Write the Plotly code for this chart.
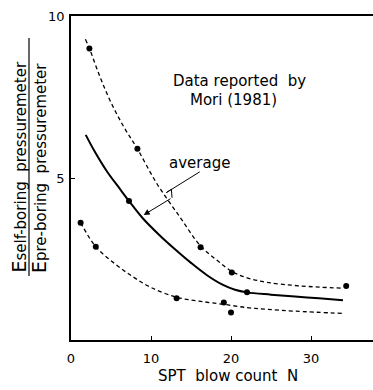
import plotly.graph_objects as go

# ---- data ----
upper_pts_n = [2.3, 8.3, 16.2, 20.1, 34.4]
upper_pts_v = [9.0, 5.9, 2.86, 2.08, 1.67]
avg_pts_n = [7.25, 22.0]
avg_pts_v = [4.29, 1.47]
lower_pts_n = [1.2, 3.1, 13.2, 19.1, 20.0]
lower_pts_v = [3.62, 2.88, 1.29, 1.16, 0.85]

upper_curve_n = [1.8, 2.3, 3.5, 4.85, 6.5, 8.3, 10.7, 13.6, 16.2, 18.2, 20.1, 22.0, 24.5, 28.6, 33.9]
upper_curve_v = [9.28, 9.0, 8.2, 7.41, 6.62, 5.9, 4.84, 3.8, 2.9, 2.47, 2.12, 1.92, 1.78, 1.67, 1.6]
avg_curve_n = [1.84, 3.0, 4.5, 6.0, 7.25, 9.0, 11.0, 13.0, 15.0, 17.0, 19.0, 20.5, 22.0, 25.0, 28.0, 31.0, 34.0]
avg_curve_v = [6.33, 5.8, 5.2, 4.7, 4.29, 3.75, 3.25, 2.8, 2.38, 2.0, 1.7, 1.55, 1.47, 1.4, 1.34, 1.29, 1.23]
lower_curve_n = [1.2, 3.1, 5.5, 7.75, 10.0, 13.2, 16.0, 19.1, 22.0, 24.4, 28.0, 34.0]
lower_curve_v = [3.62, 2.88, 2.35, 1.95, 1.62, 1.32, 1.2, 1.1, 1.0, 0.95, 0.89, 0.82]

bolt_n = [16.09, 11.92, 12.55, 12.63]
bolt_v = [5.19, 4.55, 4.65, 4.39]
arrow_tip = (9.09, 3.86)

x_ticks = [0, 10, 20, 30]
y_ticks = [5, 10]

FONT = "DejaVu Sans"
fig = go.Figure()

for cn, cv, dash, w in [(upper_curve_n, upper_curve_v, "4px,3px", 1.3),
                        (avg_curve_n, avg_curve_v, "solid", 2.0),
                        (lower_curve_n, lower_curve_v, "4px,3px", 1.3)]:
    fig.add_trace(go.Scatter(x=cn, y=cv, mode="lines",
                             line=dict(color="black", width=w, dash=dash, shape="spline", smoothing=1.0),
                             showlegend=False, hoverinfo="skip"))

for pn, pv in [(upper_pts_n, upper_pts_v), (avg_pts_n, avg_pts_v), (lower_pts_n, lower_pts_v)]:
    fig.add_trace(go.Scatter(x=pn, y=pv, mode="markers", marker=dict(color="black", size=6),
                             showlegend=False, hoverinfo="skip"))

fig.add_trace(go.Scatter(x=bolt_n, y=bolt_v, mode="lines", line=dict(color="black", width=1),
                         showlegend=False, hoverinfo="skip"))

fig.add_annotation(x=arrow_tip[0], y=arrow_tip[1], ax=bolt_n[-1], ay=bolt_v[-1], xref="x", yref="y",
                   axref="x", ayref="y", showarrow=True, arrowhead=2, arrowsize=1.2, arrowwidth=1,
                   arrowcolor="black", text="")

fig.add_annotation(x=21.1, y=(340 - 80.5) / 32.4, xref="x", yref="y", text="Data reported\u00a0\u00a0by",
                   showarrow=False, font=dict(family=FONT, size=15, color="black"))
fig.add_annotation(x=20.3, y=(340 - 100) / 32.4, xref="x", yref="y", text="Mori (1981)",
                   showarrow=False, font=dict(family=FONT, size=15, color="black"))
fig.add_annotation(x=16.1, y=(340 - 163) / 32.4, xref="x", yref="y", text="average",
                   showarrow=False, font=dict(family=FONT, size=15, color="black"))

# x title
fig.add_annotation(x=(228 - 71) / 302, y=(340 - 376) / 324, xref="paper", yref="paper",
                   xanchor="center", yanchor="middle",
                   text="SPT\u00a0\u00a0blow\u00a0count\u00a0\u00a0N", showarrow=False,
                   font=dict(family=FONT, size=15, color="black"))

# y title as fraction
fig.add_annotation(x=0, y=(340 - 275) / 324, xref="paper", yref="paper", xanchor="center", yanchor="bottom",
                   xshift=-53, textangle=-90, showarrow=False,
                   text='<span style="font-size:19px">E</span>self-boring\u00a0\u00a0pressuremeter',
                   font=dict(family=FONT, size=15, color="black"))
fig.add_annotation(x=0, y=(340 - 275) / 324, xref="paper", yref="paper", xanchor="center", yanchor="bottom",
                   xshift=-32, textangle=-90, showarrow=False,
                   text='<span style="font-size:19px">E</span>pre-boring\u00a0\u00a0pressuremeter',
                   font=dict(family=FONT, size=15, color="black"))
fig.add_shape(type="line", xref="paper", yref="paper", x0=-(71 - 29) / 302, x1=-(71 - 29) / 302,
              y0=(340 - 276) / 324, y1=(340 - 38) / 324, line=dict(color="black", width=1.2))

fig.update_xaxes(range=[0, 37.75], tickvals=x_ticks, ticktext=[str(t) for t in x_ticks],
                 showline=True, mirror=True, linecolor="black", linewidth=1.5, showgrid=False, zeroline=False,
                 ticks="inside", ticklen=4, tickcolor="black", ticklabelstandoff=6,
                 tickfont=dict(family=FONT, size=13, color="black"))
fig.update_yaxes(range=[0, 10], tickvals=y_ticks, ticktext=[str(t) for t in y_ticks],
                 showline=True, mirror=False, linecolor="black", linewidth=1.5, showgrid=False, zeroline=False,
                 ticks="inside", ticklen=4, tickcolor="black", ticklabelstandoff=2,
                 tickfont=dict(family=FONT, size=13, color="black"))

fig.update_layout(width=373, height=390, margin=dict(l=71, r=0, t=16, b=50),
                  paper_bgcolor="white", plot_bgcolor="white", showlegend=False)

fig.write_html("out.html")
